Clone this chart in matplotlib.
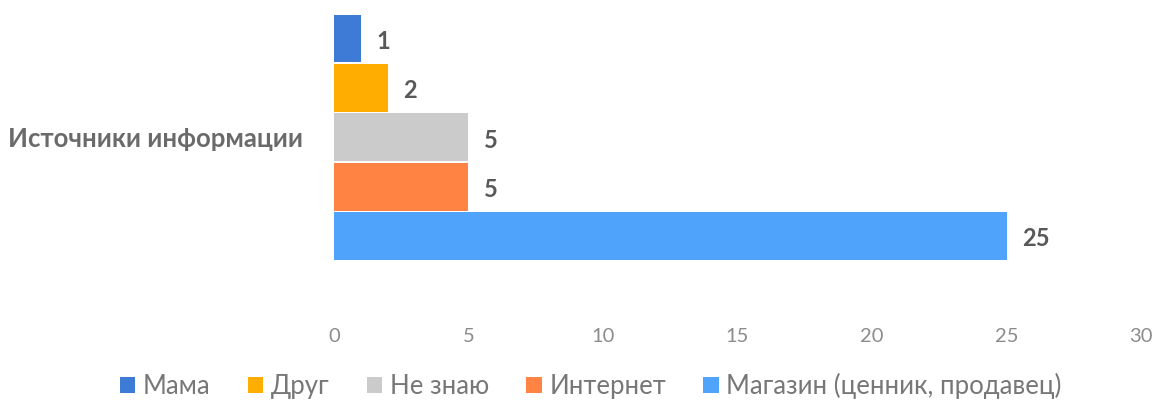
import numpy as np
import matplotlib.pyplot as plt
from matplotlib.patches import Patch

plt.rcParams['font.family'] = ['Lato', 'DejaVu Sans']

# данные
category = "Источники информации"
series = ["Мама", "Друг", "Не знаю", "Интернет", "Магазин (ценник, продавец)"]
values = [1, 2, 5, 5, 25]
colors = ["#3d7bd6", "#ffad00", "#cbcbcb", "#ff8443", "#4fa3fb"]
xticks = [0, 5, 10, 15, 20, 25, 30]

fig = plt.figure(figsize=(11.65, 4.07), dpi=100)
ax = fig.add_axes([334 / 1165, 1 - 318 / 407, (1141 - 334) / 1165, 318 / 407])

h = 1.0
n = len(series)
for i, (name, v, c) in enumerate(zip(series, values, colors)):
    y = (n - 1) / 2 * h - i * h
    ax.barh(y, v, height=h * 0.97, color=c, label=name)
    ax.annotate(str(v), xy=(v, y), xytext=(11, -2), textcoords="offset points",
                va="center", ha="left", fontsize=17, fontweight="bold", color="#595959")

ax.set_xlim(0, 30)
ax.set_ylim(-3.66, 2.78)
ax.set_xticks(xticks)
ax.set_xticklabels([str(t) for t in xticks], fontsize=14.5, color="#8c8c8c")
ax.set_yticks([0])
ax.set_yticklabels([category], fontsize=18.5, fontweight="bold", color="#6a6a6a")
ax.tick_params(axis="both", length=0)
ax.tick_params(axis="y", pad=22)
ax.tick_params(axis="x", pad=7)
for s in ax.spines.values():
    s.set_visible(False)

handles = [Patch(facecolor=c, label=s) for s, c in zip(series, colors)]
fig.legend(handles=handles, loc="center", bbox_to_anchor=(0.507, 0.052), ncol=5,
           frameon=False, fontsize=18.5, handlelength=0.6, handleheight=0.6,
           handletextpad=0.3, columnspacing=1.45, labelcolor="#777777")

fig.savefig("out.png", dpi=100)
